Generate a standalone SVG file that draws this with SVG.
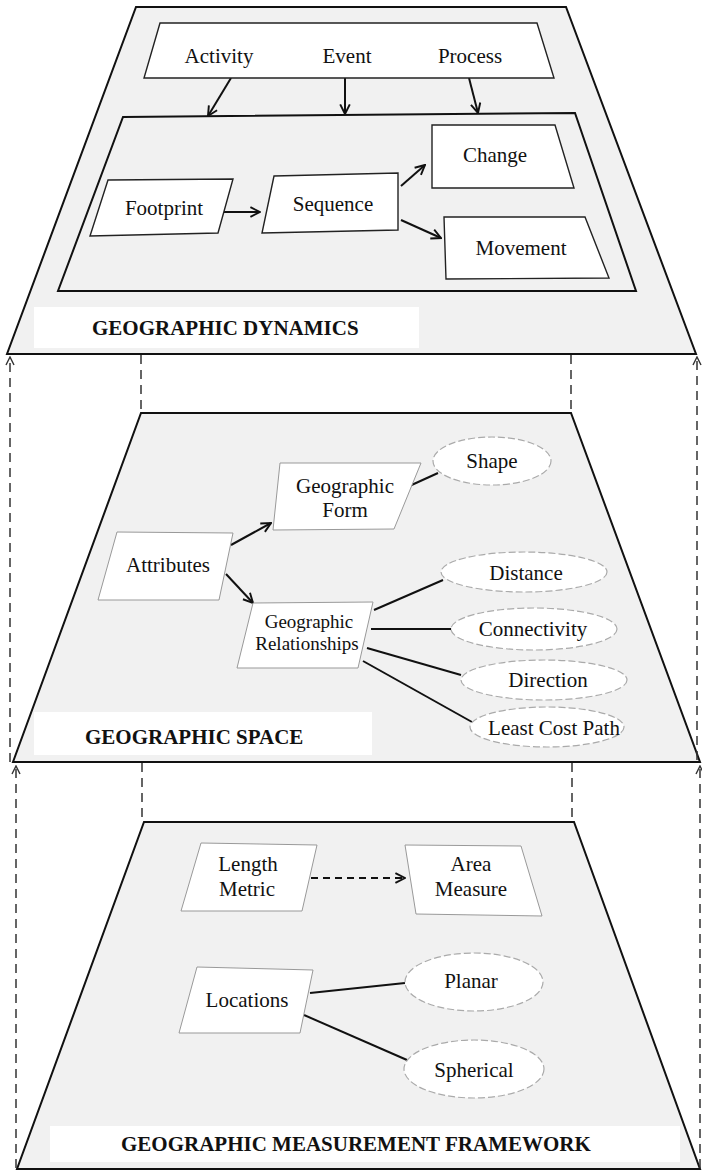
<svg xmlns="http://www.w3.org/2000/svg" width="702" height="1171" viewBox="0 0 702 1171">
  <defs>
    <marker id="arr" viewBox="0 0 10 10" refX="9" refY="5" markerWidth="12" markerHeight="12" markerUnits="userSpaceOnUse" orient="auto">
      <path d="M1,1 L9,5 L1,9" fill="none" stroke="#111" stroke-width="1.6"/>
    </marker>
    <marker id="arrSm" viewBox="0 0 10 10" refX="9" refY="5" markerWidth="10" markerHeight="10" markerUnits="userSpaceOnUse" orient="auto">
      <path d="M1,1 L9,5 L1,9" fill="none" stroke="#333" stroke-width="1.4"/>
    </marker>
  </defs>
  <style>
    .layer { fill: #f1f1f1; stroke: #111; stroke-width: 2; stroke-linejoin: miter; }
    .band { fill: #ffffff; stroke: none; }
    .box { fill: #ffffff; stroke: #222; stroke-width: 1.4; }
    .boxL { fill: #ffffff; stroke: #999; stroke-width: 1; }
    .oval { fill: #ffffff; stroke: #aaa; stroke-width: 1.2; stroke-dasharray: 7 3; }
    .t { font-family: "Liberation Serif", "Times New Roman", serif; font-size: 21px; fill: #111; text-anchor: middle; }
    .ts { font-family: "Liberation Serif", "Times New Roman", serif; font-size: 19px; fill: #111; text-anchor: middle; }
    .title { font-family: "Liberation Serif", "Times New Roman", serif; font-size: 21px; font-weight: bold; fill: #111; }
    .edge { fill: none; stroke: #111; stroke-width: 2; }
    .dash { fill: none; stroke: #333; stroke-width: 1.5; stroke-dasharray: 9 6; }
  </style>

  <!-- Layer planes -->
  <g id="layer-dynamics">
    <polygon class="layer" points="136,7 566,7 696,354 7,354"/>
    <rect class="band" x="34" y="307" width="385" height="41"/>
    <text class="title" x="92" y="335">GEOGRAPHIC DYNAMICS</text>
    <polygon class="layer" points="123,117 575,113 636,291 58,291"/>
  </g>
  <g id="layer-space">
    <polygon class="layer" points="141,413 571,413 700,762 13,762"/>
    <rect class="band" x="34" y="712" width="338" height="43"/>
    <text class="title" x="85" y="744">GEOGRAPHIC SPACE</text>
  </g>
  <g id="layer-measurement">
    <polygon class="layer" points="144,822 574,822 700,1169 17,1169"/>
    <rect class="band" x="50" y="1126" width="630" height="36"/>
    <text class="title" x="121" y="1151">GEOGRAPHIC MEASUREMENT FRAMEWORK</text>
  </g>

  <!-- Connectors -->
  <g id="connectors">
    <!-- stacking guides between layers -->
    <line class="dash" x1="141" y1="355" x2="141" y2="413"/>
    <line class="dash" x1="571" y1="355" x2="571" y2="413"/>
    <line class="dash" x1="142" y1="763" x2="142" y2="822"/>
    <line class="dash" x1="572" y1="763" x2="572" y2="822"/>
    <line class="dash" x1="10" y1="762" x2="10" y2="357" marker-end="url(#arrSm)"/>
    <line class="dash" x1="697" y1="760" x2="697" y2="357" marker-end="url(#arrSm)"/>
    <line class="dash" x1="16" y1="1168" x2="16" y2="766" marker-end="url(#arrSm)"/>
    <line class="dash" x1="700" y1="1168" x2="700" y2="766" marker-end="url(#arrSm)"/>

    <!-- dynamics -->
    <line class="edge" x1="231" y1="78" x2="208" y2="116" marker-end="url(#arr)"/>
    <line class="edge" x1="345" y1="78" x2="345" y2="114" marker-end="url(#arr)"/>
    <line class="edge" x1="469" y1="78" x2="478" y2="113" marker-end="url(#arr)"/>
    <line class="edge" x1="222" y1="212" x2="260" y2="212" marker-end="url(#arr)"/>
    <line class="edge" x1="401" y1="186" x2="425" y2="165" marker-end="url(#arr)"/>
    <line class="edge" x1="401" y1="220" x2="441" y2="238" marker-end="url(#arr)"/>

    <!-- space -->
    <line class="edge" x1="231" y1="545" x2="271" y2="523" marker-end="url(#arr)"/>
    <line class="edge" x1="226" y1="574" x2="253" y2="603" marker-end="url(#arr)"/>
    <line class="edge" x1="405" y1="488" x2="438" y2="473"/>
    <line class="edge" x1="374" y1="610" x2="443" y2="580"/>
    <line class="edge" x1="371" y1="629" x2="452" y2="629"/>
    <line class="edge" x1="367" y1="648" x2="461" y2="675"/>
    <line class="edge" x1="363" y1="661" x2="472" y2="722"/>

    <!-- measurement -->
    <line class="edge" x1="311" y1="878" x2="405" y2="878" stroke-dasharray="7 5" marker-end="url(#arr)"/>
    <line class="edge" x1="310" y1="993" x2="405" y2="983"/>
    <line class="edge" x1="304" y1="1015" x2="407" y2="1060"/>
  </g>

  <!-- Nodes: geographic dynamics -->
  <g id="node-triggers">
    <polygon class="box" points="160,23 537,23 554,78 144,78"/>
    <text class="t" x="219" y="63">Activity</text>
    <text class="t" x="347" y="63">Event</text>
    <text class="t" x="470" y="63">Process</text>
  </g>
  <g id="node-footprint">
    <polygon class="box" points="108,180 233,179 218,233 90,236"/>
    <text class="t" x="164" y="215">Footprint</text>
  </g>
  <g id="node-sequence">
    <polygon class="box" points="274,176 398,173 398,230 262,233"/>
    <text class="t" x="333" y="211">Sequence</text>
  </g>
  <g id="node-change">
    <polygon class="box" points="432,125 555,125 574,188 432,188"/>
    <text class="t" x="495" y="162">Change</text>
  </g>
  <g id="node-movement">
    <polygon class="box" points="444,217 585,217 609,278 446,279"/>
    <text class="t" x="521" y="255">Movement</text>
  </g>

  <!-- Nodes: geographic space -->
  <g id="node-attributes">
    <polygon class="boxL" points="117,532 233,533 219,600 98,600"/>
    <text class="t" x="168" y="572">Attributes</text>
  </g>
  <g id="node-geographic-form">
    <polygon class="boxL" points="280,463 421,463 394,529 273,530"/>
    <text class="t" x="345" y="493">Geographic</text>
    <text class="t" x="345" y="517">Form</text>
  </g>
  <g id="node-geographic-relationships">
    <polygon class="boxL" points="253,603 373,602 358,668 237,668"/>
    <text class="ts" x="309" y="628">Geographic</text>
    <text class="ts" x="307" y="650">Relationships</text>
  </g>
  <g id="node-shape">
    <ellipse class="oval" cx="492" cy="461" rx="59" ry="24"/>
    <text class="t" x="492" y="468">Shape</text>
  </g>
  <g id="node-distance">
    <ellipse class="oval" cx="524" cy="572" rx="83" ry="20"/>
    <text class="t" x="526" y="580">Distance</text>
  </g>
  <g id="node-connectivity">
    <ellipse class="oval" cx="534" cy="629" rx="83" ry="21"/>
    <text class="t" x="533" y="636">Connectivity</text>
  </g>
  <g id="node-direction">
    <ellipse class="oval" cx="544" cy="680" rx="83" ry="20"/>
    <text class="t" x="548" y="687">Direction</text>
  </g>
  <g id="node-least-cost-path">
    <ellipse class="oval" cx="547" cy="727" rx="77" ry="20"/>
    <text class="t" x="554" y="735">Least Cost Path</text>
  </g>

  <!-- Nodes: geographic measurement framework -->
  <g id="node-length-metric">
    <polygon class="boxL" points="201,843 317,845 302,911 181,911"/>
    <text class="t" x="248" y="871">Length</text>
    <text class="t" x="247" y="896">Metric</text>
  </g>
  <g id="node-area-measure">
    <polygon class="boxL" points="405,845 521,846 542,916 416,914"/>
    <text class="t" x="471" y="871">Area</text>
    <text class="t" x="471" y="896">Measure</text>
  </g>
  <g id="node-locations">
    <polygon class="boxL" points="197,967 313,970 300,1033 179,1033"/>
    <text class="t" x="247" y="1007">Locations</text>
  </g>
  <g id="node-planar">
    <ellipse class="oval" cx="474" cy="982" rx="69" ry="29"/>
    <text class="t" x="471" y="988">Planar</text>
  </g>
  <g id="node-spherical">
    <ellipse class="oval" cx="474" cy="1069" rx="70" ry="29"/>
    <text class="t" x="474" y="1077">Spherical</text>
  </g>
</svg>
